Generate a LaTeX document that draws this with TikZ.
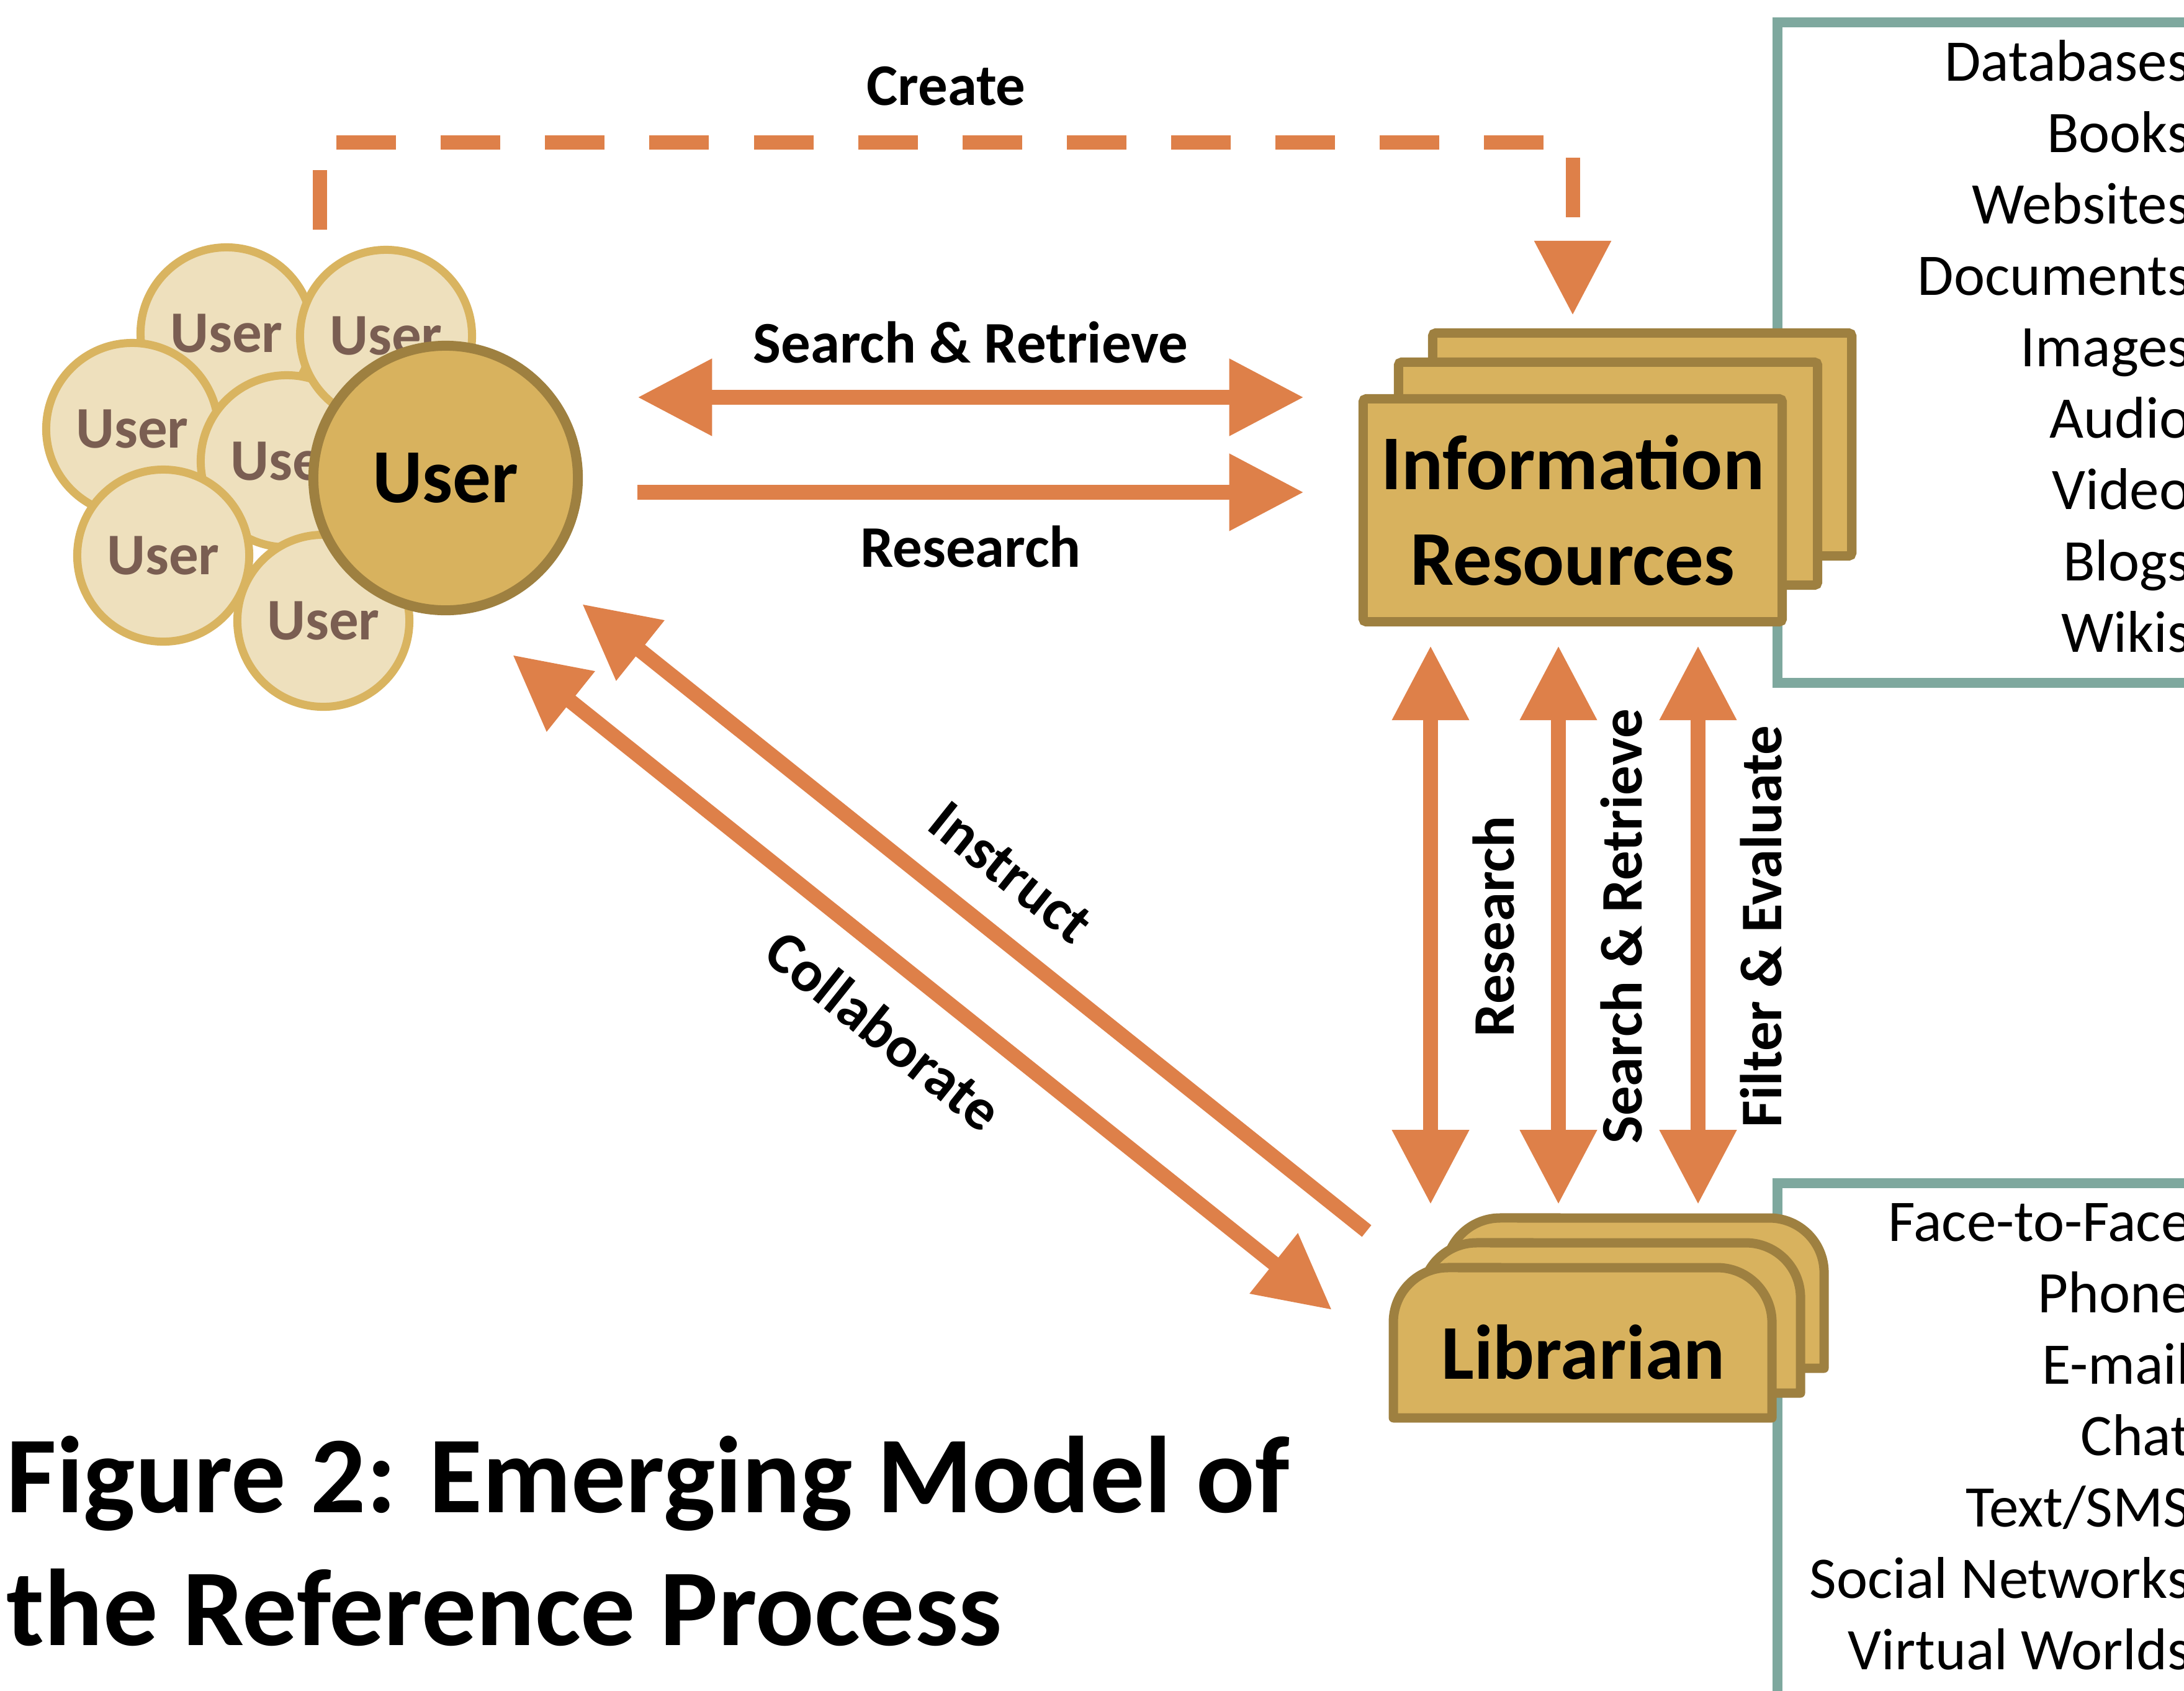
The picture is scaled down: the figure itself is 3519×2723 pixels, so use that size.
\documentclass[tikz,border=0pt]{standalone}
\usepackage{fontspec}
\setmainfont{Carlito}
\usetikzlibrary{arrows.meta}

\definecolor{arroworange}{HTML}{DE8049}
\definecolor{cardgold}{HTML}{D8B25E}
\definecolor{cardedge}{HTML}{9E8040}
\definecolor{userfill}{HTML}{EEE0BD}
\definecolor{useredge}{HTML}{D9B460}
\definecolor{usertext}{HTML}{7A5E52}
\definecolor{listedge}{HTML}{7EA89E}

% one librarian card (round top corners), centred at (#1,#2)
\newcommand{\libcard}[2]{
\draw[cardedge, fill=cardgold, line width=0.15cm, line join=round]
  (#1-305,#2+121) -- (#1-305,#2-33) arc[start angle=180, end angle=90, radius=0.88cm]
  -- (#1+217,#2-121) arc[start angle=90, end angle=0, radius=0.88cm]
  -- (#1+305,#2+121) -- cycle;
}

\begin{document}
\begin{tikzpicture}[x=0.01cm, y=-0.01cm, >={Triangle[length=1.2cm, width=1.18cm]}]
\tikzstyle{crowd} = [circle, draw=useredge, fill=userfill, line width=0.13cm,
  minimum size=2.77cm, inner sep=0pt, text=usertext,
  font=\bfseries\fontsize{27}{32}\selectfont]
\tikzstyle{card} = [rectangle, draw=cardedge, fill=cardgold, line width=0.15cm,
  rounded corners=0.05cm, minimum width=6.75cm, minimum height=3.59cm, inner sep=0pt]
\tikzstyle{big} = [font=\bfseries\fontsize{35.5}{44}\selectfont]
\tikzstyle{flow} = [draw=arroworange, line width=0.24cm]
\tikzstyle{lbl} = [font=\bfseries\fontsize{27}{32}\selectfont, inner xsep=0pt]
\tikzstyle{entry} = [font=\fontsize{27}{32}\selectfont, anchor=base east, inner sep=0pt]
\tikzstyle{listbox} = [draw=listedge, line width=0.16cm]
\tikzstyle{heading} = [font=\bfseries\fontsize{50}{61}\selectfont, anchor=base west, inner sep=0pt]

\useasboundingbox (0,0) rectangle (3519,2723);
\clip (0,0) rectangle (3519,2723);

% lists on the right
\draw[listbox] (2864,36) rectangle (3600,1100);
\draw[listbox] (2864,1906) rectangle (3600,2800);
\foreach \w [count=\i] in {Databases,Books,Websites,Documents,Images,Audio,Video,Blogs,Wikis}
  \node[entry] (src\i) at (3530,15+115*\i) {\w};
\foreach \w [count=\i] in {Face-to-Face,Phone,E-mail,Chat,Text/SMS,Social Networks,Virtual Worlds}
  \node[entry] (via\i) at (3530,1884+115*\i) {\w};

% users
\node[crowd] (u1) at (365,537) {User};
\node[crowd] (u3) at (213,691) {User};
\node[crowd] (u4) at (462,743) {User};
\node[crowd] (u2) at (622,541) {User};
\node[crowd] (u5) at (263,895) {User};
\node[crowd] (u6) at (521,1000) {User};
\node[circle, draw=cardedge, fill=cardgold, line width=0.16cm, minimum size=4.26cm,
  inner sep=0pt, font=\bfseries\fontsize{35}{42}\selectfont] (user) at (718,770) {User};

% information resources
\node[card] (info3) at (2646,716) {};
\node[card] (info2) at (2591,763) {};
\node[card, big, align=center] (info) at (2534,822) {Information\\Resources};

% librarian
\libcard{2634}{2083}
\libcard{2596}{2123}
\libcard{2550}{2163}
\node[big, minimum width=6.31cm, minimum height=2.58cm, inner sep=0pt] (lib) at (2551,2178) {Librarian};

% free ends and levels
\coordinate (crt) at (515,370);
\coordinate (top) at (0,229);
\coordinate (sr) at (0,640);
\coordinate (rs) at (0,793);
\coordinate (c1) at (2305,0);
\coordinate (c2) at (2511,0);
\coordinate (c3) at (2736,0);
\coordinate (ins-a) at (938,973);
\coordinate (ins-b) at (2202,1983);
\coordinate (col-a) at (826,1055);
\coordinate (col-b) at (2146,2110);

\draw[flow, ->, line width=0.23cm, dash pattern=on 0.96cm off 0.72cm, shorten >=1.27cm]
  (crt) -- (crt |- top) -- node[lbl, above, inner ysep=0.47cm] (create) {Create} (info.north |- top) -- (info.north);
\draw[flow, <->, shorten <=0.88cm, shorten >=0.88cm]
  (user.east |- sr) -- node[lbl, above, inner ysep=0.43cm] (srl) {Search \& Retrieve} (info.west |- sr);
\draw[flow, ->, shorten <=0.88cm, shorten >=0.88cm]
  (user.east |- rs) -- node[lbl, below, inner ysep=0.42cm] (rsl) {Research} (info.west |- rs);

\draw[flow, <->, shorten <=0.31cm, shorten >=1.08cm] (info.south -| c1) --
  node[lbl, pos=0.465, rotate=90, anchor=north, inner ysep=0.56cm] (v1) {Research} (lib.north -| c1);
\draw[flow, <->, shorten <=0.31cm, shorten >=1.08cm] (info.south -| c2) --
  node[lbl, pos=0.465, rotate=90, anchor=north, inner ysep=0.56cm] (v2) {Search \& Retrieve} (lib.north -| c2);
\draw[flow, <->, shorten <=0.31cm, shorten >=1.08cm] (info.south -| c3) --
  node[lbl, pos=0.465, rotate=90, anchor=north, inner ysep=0.56cm] (v3) {Filter \& Evaluate} (lib.north -| c3);

\draw[flow, <-] (ins-a) -- node[lbl, sloped, above, inner ysep=0.5cm] (insl) {Instruct} (ins-b);
\draw[flow, <->] (col-a) -- node[lbl, sloped, below, inner ysep=0.53cm] (coll) {Collaborate} (col-b);

% caption
\node[heading] (title) at (10,2436) {Figure 2: Emerging Model of};
\node[heading] (title2) at (10,2650) {the Reference Process};
\end{tikzpicture}
\end{document}
